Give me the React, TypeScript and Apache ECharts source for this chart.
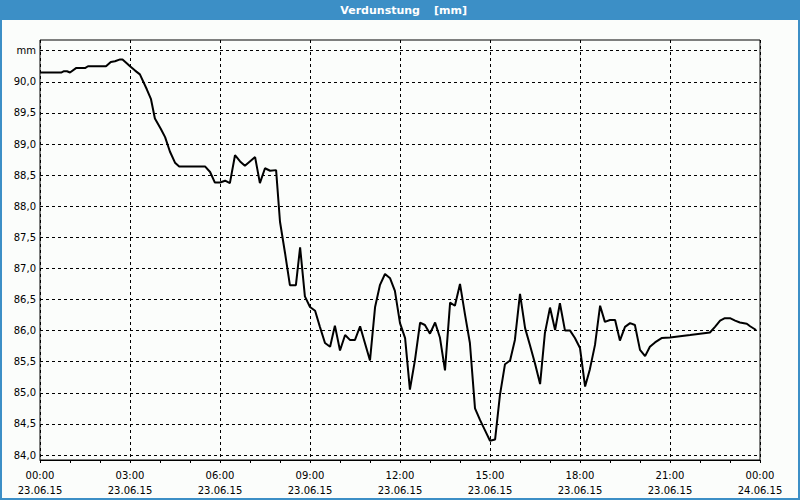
import React, { useEffect, useRef } from "react";
import * as echarts from "echarts";

const hours = [
  0, 0.72, 0.8, 0.9, 1.0, 1.2, 1.5, 1.6, 2.2, 2.36, 2.5, 2.67, 2.75, 2.91, 3.0, 3.17, 3.33, 3.56, 3.7, 3.83,
  4.02, 4.17, 4.33, 4.5, 4.64, 5.5, 5.67, 5.83, 6.0, 6.17, 6.33, 6.5, 6.67, 6.83, 7.17, 7.33, 7.5, 7.67, 7.87,
  8.0, 8.17, 8.33, 8.53, 8.67, 8.83, 9.0, 9.17, 9.33, 9.5, 9.67, 9.83, 10.0, 10.17, 10.33, 10.5, 10.67, 10.83,
  11.0, 11.17, 11.33, 11.5, 11.67, 11.83, 12.0, 12.17, 12.33, 12.5, 12.67, 12.83, 13.0, 13.17, 13.33, 13.5,
  13.67, 13.83, 14.0, 14.17, 14.33, 14.5, 14.67, 14.83, 15.0, 15.17, 15.33, 15.5, 15.67, 15.83, 16.0, 16.17,
  16.33, 16.5, 16.67, 16.83, 17.0, 17.17, 17.33, 17.5, 17.67, 17.83, 18.0, 18.17, 18.33, 18.5, 18.67, 18.83,
  19.0, 19.17, 19.33, 19.5, 19.67, 19.83, 20.0, 20.17, 20.33, 20.5, 20.72, 21.0, 21.67, 22.33, 22.5, 22.67,
  22.83, 23.0, 23.17, 23.33, 23.56, 23.67, 23.87,
];

const values = [
  90.15, 90.15, 90.17, 90.17, 90.15, 90.22, 90.22, 90.25, 90.25, 90.32, 90.33, 90.36, 90.36, 90.29, 90.25,
  90.18, 90.12, 89.88, 89.72, 89.41, 89.25, 89.11, 88.88, 88.7, 88.64, 88.64, 88.55, 88.38, 88.38, 88.41,
  88.37, 88.82, 88.72, 88.65, 88.79, 88.37, 88.61, 88.57, 88.58, 87.75, 87.24, 86.73, 86.73, 87.34, 86.55,
  86.38, 86.32, 86.06, 85.8, 85.74, 86.08, 85.68, 85.93, 85.85, 85.85, 86.07, 85.8, 85.52, 86.38, 86.73,
  86.91, 86.84, 86.64, 86.12, 85.88, 85.05, 85.53, 86.13, 86.09, 85.95, 86.13, 85.89, 85.36, 86.45, 86.4,
  86.75, 86.25, 85.8, 84.75, 84.56, 84.4, 84.23, 84.25, 84.96, 85.46, 85.52, 85.85, 86.59, 86.04, 85.77,
  85.47, 85.14, 85.96, 86.37, 86.01, 86.44, 86.0, 86.0, 85.88, 85.72, 85.1, 85.38, 85.77, 86.4, 86.14,
  86.17, 86.17, 85.84, 86.06, 86.12, 86.09, 85.69, 85.59, 85.74, 85.81, 85.88, 85.89, 85.93, 85.97, 86.06,
  86.16, 86.2, 86.2, 86.16, 86.13, 86.11, 86.07, 86.01,
];

const xTickLabels: Record<number, string> = {
  0: "00:00\n23.06.15",
  3: "03:00\n23.06.15",
  6: "06:00\n23.06.15",
  9: "09:00\n23.06.15",
  12: "12:00\n23.06.15",
  15: "15:00\n23.06.15",
  18: "18:00\n23.06.15",
  21: "21:00\n23.06.15",
  24: "00:00\n24.06.15",
};

const titleMain = "Verdunstung";
const titleUnit = "[mm]";
const yUnitLabel = "mm";

const BLUE = "#3c8fc6";
const FONT = "DejaVu Sans";

export default function App() {
  const ref = useRef<HTMLDivElement>(null);
  useEffect(() => {
    if (!ref.current) return;
    const chart = echarts.init(ref.current, null, { renderer: "svg" });
    const data = hours.map((h, i) => [h, values[i]]);
    const pxPerUnit = 404.3 / 6.5;
    chart.setOption({
      animation: false,
      backgroundColor: "#fbfdfb",
      graphic: [
        { type: "rect", shape: { x: 0, y: 0, width: 800, height: 20 }, style: { fill: BLUE }, z: 0 },
        { type: "rect", shape: { x: 1, y: 1, width: 798, height: 498 }, style: { fill: "none", stroke: BLUE, lineWidth: 2 } },
        {
          type: "text",
          x: 420,
          y: 10,
          style: {
            text: titleMain,
            fill: "#ffffff",
            font: `bold 11px '${FONT}'`,
            align: "right",
            verticalAlign: "middle",
          },
        },
        {
          type: "text",
          x: 467,
          y: 10,
          style: {
            text: titleUnit,
            fill: "#ffffff",
            font: `bold 11px '${FONT}'`,
            align: "right",
            verticalAlign: "middle",
          },
        },
      ],
      grid: [
        { left: 40, right: 40, top: 40, bottom: 40, show: true, borderColor: "#000", borderWidth: 1, backgroundColor: "transparent" },
        { left: 40, right: 40, top: 50.7, bottom: 45, show: false },
      ],
      xAxis: [
        {
          type: "value",
          gridIndex: 0,
          min: 0,
          max: 24,
          interval: 3,
          axisLine: { show: true, lineStyle: { color: "#000", width: 1 } },
          axisTick: { show: true, length: 3, lineStyle: { color: "#000" } },
          minorTick: { show: true, splitNumber: 3, length: 3, lineStyle: { color: "#000" } },
          splitLine: { show: true, lineStyle: { color: "#000", type: [3, 3], width: 1 } },
          axisLabel: {
            margin: 8,
            color: "#000",
            fontFamily: FONT,
            fontSize: 10,
            lineHeight: 15,
            formatter: (v: number) => xTickLabels[v] ?? "",
          },
        },
        { type: "value", gridIndex: 1, min: 0, max: 24, show: false },
      ],
      yAxis: [
        {
          type: "value",
          gridIndex: 0,
          min: 84 - 5 / pxPerUnit,
          max: 90.5 + 10.7 / pxPerUnit,
          show: false,
          splitLine: { show: false },
        },
        {
          type: "value",
          gridIndex: 1,
          min: 84,
          max: 90.5,
          interval: 0.5,
          axisLine: { show: false },
          axisTick: { show: false },
          splitLine: { show: true, lineStyle: { color: "#000", type: [3, 3], width: 1 } },
          axisLabel: {
            margin: 4,
            color: "#000",
            fontFamily: FONT,
            fontSize: 10,
            formatter: (v: number) => (Math.abs(v - 90.5) < 1e-6 ? yUnitLabel : v.toFixed(1).replace(".", ",")),
          },
        },
      ],
      series: [
        {
          type: "line",
          xAxisIndex: 0,
          yAxisIndex: 0,
          data,
          showSymbol: false,
          lineStyle: { color: "#000", width: 2 },
          z: 5,
        },
      ],
    });
    return () => chart.dispose();
  }, []);
  return <div ref={ref} style={{ position: "absolute", left: 0, top: 0, width: 800, height: 500 }} />;
}
